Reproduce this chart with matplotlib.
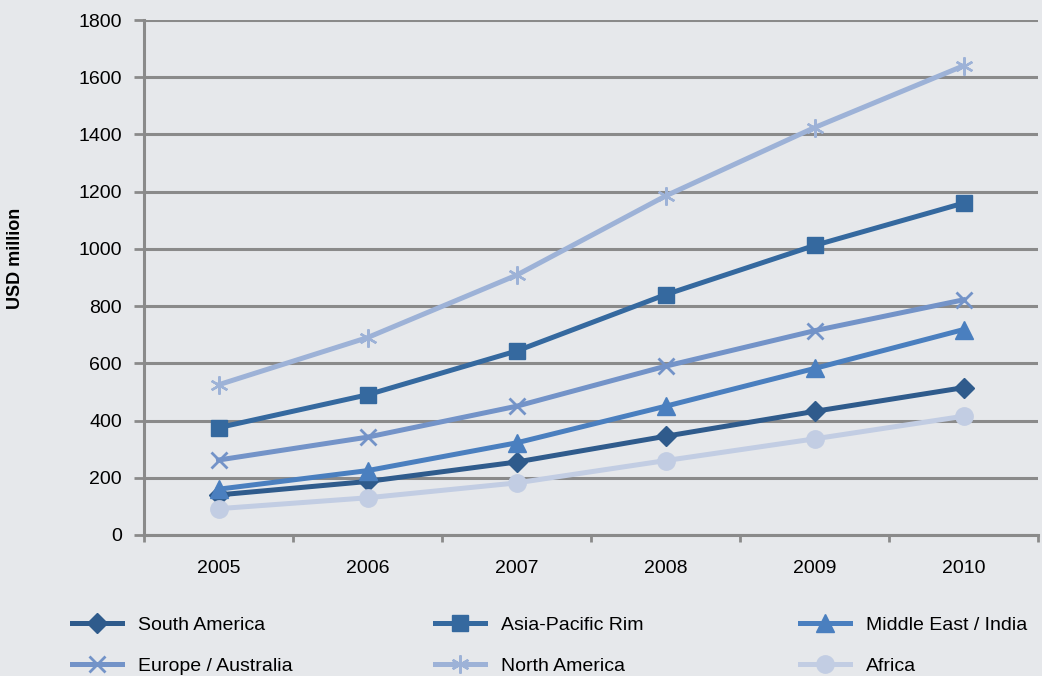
import matplotlib
matplotlib.use("Agg")
import matplotlib.pyplot as plt
import numpy as np

# data
years = ["2005", "2006", "2007", "2008", "2009", "2010"]
south_america = [140, 187, 255, 345, 432, 515]
asia_pacific = [375, 490, 643, 840, 1012, 1160]
middle_east = [160, 225, 322, 450, 582, 718]
europe_australia = [262, 342, 450, 590, 714, 822]
north_america = [525, 690, 908, 1185, 1424, 1640]
africa = [92, 130, 182, 260, 336, 415]

series = [
    ("South America", south_america, "#2f5b8c", "D", 10),
    ("Asia-Pacific Rim", asia_pacific, "#35699f", "s", 12),
    ("Middle East / India", middle_east, "#4a7fbf", "^", 12.5),
    ("Europe / Australia", europe_australia, "#7393c8", "x", 12),
    ("North America", north_america, "#9db2d7", "*", 13),
    ("Africa", africa, "#c2cde3", "o", 12.5),
]

bg = "#e6e8eb"
grid_col = "#8a8a8a"
plt.rcParams['font.family'] = ['Liberation Sans', 'DejaVu Sans']

fig = plt.figure(figsize=(10.42, 6.76), dpi=100, facecolor=bg)
ax = fig.add_axes([0.1382, 0.2086, 0.8580, 0.7618], facecolor=bg)

x = np.arange(len(years))
handles = []
for name, vals, col, mk, ms in series:
    if mk == "*":
        # asterisk style marker
        h, = ax.plot(x, vals, color=col, lw=3.6, marker=(6, 2, 0), ms=ms,
                     mew=1.7, mec=col, label=name, zorder=3)
    elif mk == "x":
        h, = ax.plot(x, vals, color=col, lw=3.6, marker="x", ms=ms,
                     mew=2.0, mec=col, label=name, zorder=3)
    else:
        h, = ax.plot(x, vals, color=col, lw=3.6, marker=mk, ms=ms,
                     mec=col, mfc=col, label=name, zorder=3)
    handles.append(h)

ax.set_xlim(-0.5, len(years) - 0.5)
ax.set_ylim(0, 1800)
ax.set_yticks(np.arange(0, 1801, 200))
ax.set_xticks(x)
ax.set_xticklabels(years)
ax.set_xticks(np.arange(-0.5, len(years), 1), minor=True)
ax.tick_params(axis="x", which="major", length=0, pad=18, labelsize=14)
ax.tick_params(axis="x", which="minor", length=5, width=2, color=grid_col, direction="out")
ax.tick_params(axis="y", length=7, width=2, color=grid_col, pad=9, labelsize=14)

ax.yaxis.grid(True, color=grid_col, lw=2.2)
ax.set_axisbelow(True)
for s in ["top", "right"]:
    ax.spines[s].set_visible(False)
for s in ["left", "bottom"]:
    ax.spines[s].set_color(grid_col)
    ax.spines[s].set_linewidth(2.2)

ax.set_ylabel("USD million", fontsize=13, fontweight="bold")
ax.yaxis.set_label_coords(-0.134, 0.537)

# legend: three columns, two rows each
col_x = [72, 435, 800]
for c in range(3):
    idx = [[0, 3], [1, 4], [2, 5]][c]
    fig.legend([handles[i] for i in idx], [series[i][0] for i in idx],
               loc="upper left", bbox_to_anchor=(col_x[c] / 1042, 1 - 616 / 676),
               frameon=False, fontsize=14, handlelength=2.55,
               handletextpad=0.85, labelspacing=1.22, borderpad=0,
               borderaxespad=0)

fig.savefig("out.png", dpi=100, facecolor=bg)
